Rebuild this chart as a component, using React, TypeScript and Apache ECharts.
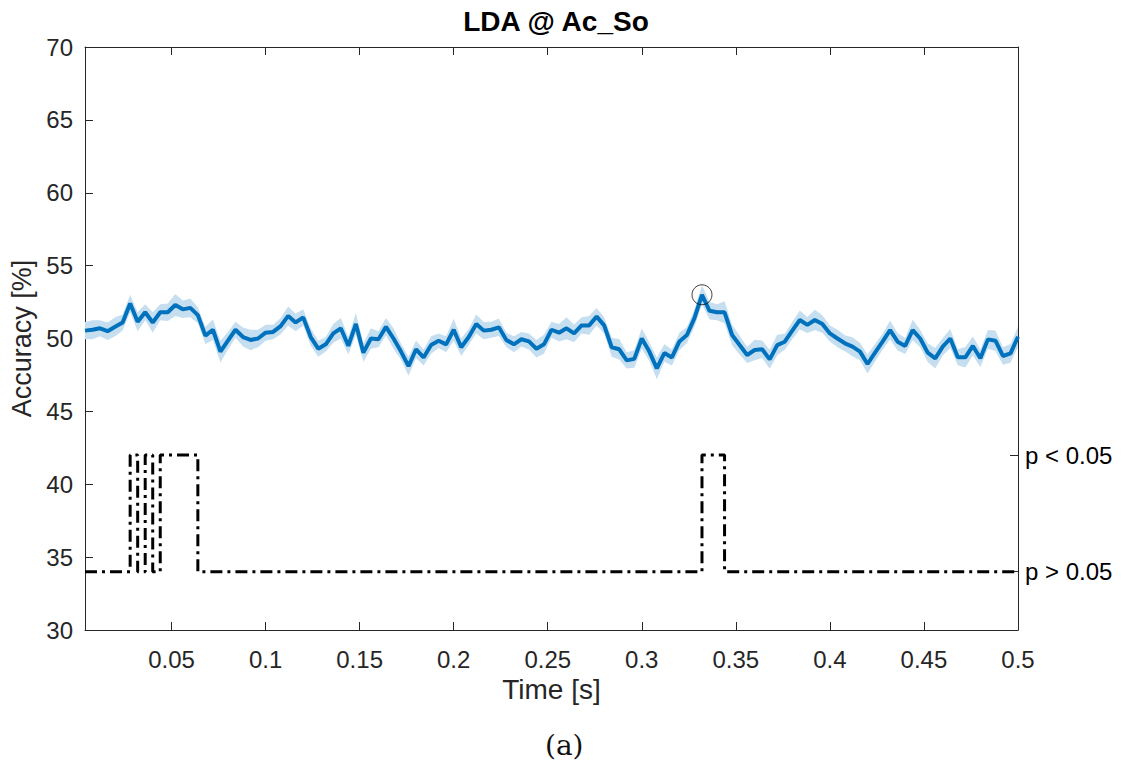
import React, { useEffect, useRef } from "react";
import * as echarts from "echarts";

// ---- Data ----
const sampleStep = 0.004; // s, sample spacing
const accuracy = [
  50.54, 50.6, 50.7, 50.5, 50.8, 51.1, 52.4, 51.15, 51.8, 51.1,
  51.8, 51.8, 52.3, 52.0, 52.1, 51.6, 50.2, 50.6, 49.1, 49.85,
  50.6, 50.1, 49.9, 50.0, 50.4, 50.45, 50.85, 51.55, 51.1, 51.45,
  50.1, 49.3, 49.6, 50.35, 50.7, 49.5, 51.0, 49.03, 50.0, 49.95,
  50.8, 50.0, 49.1, 48.1, 49.26, 48.7, 49.55, 49.85, 49.6, 50.6,
  49.4, 50.1, 51.0, 50.54, 50.6, 50.77, 49.9, 49.6, 49.95, 49.8,
  49.3, 49.6, 50.6, 50.4, 50.7, 50.35, 50.9, 50.9, 51.5, 50.9,
  49.4, 49.26, 48.5, 48.6, 50.0, 49.1, 47.95, 49.0, 48.7, 49.8,
  50.24, 51.4, 53.0, 51.9, 51.8, 51.8, 50.24, 49.55, 48.87, 49.21,
  49.26, 48.57, 49.55, 49.78, 50.54, 51.27, 50.93, 51.27, 50.99, 50.35,
  50.0, 49.67, 49.44, 49.1, 48.25, 49.03, 49.78, 50.58, 49.78, 49.49,
  50.58, 50.0, 49.03, 48.64, 49.44, 50.0, 48.71, 48.71, 49.49, 48.64,
  49.94, 49.85, 48.8, 48.98, 50.12,
];
const errorHalfWidth = [
  0.6, 0.65, 0.55, 0.6, 0.65, 0.55, 0.6, 0.65, 0.55, 0.7,
  0.55, 0.6, 0.75, 0.6, 0.65, 0.55, 0.6, 0.7, 0.75, 0.6,
  0.55, 0.65, 0.7, 0.6, 0.55, 0.5, 0.55, 0.65, 0.6, 0.55,
  0.6, 0.55, 0.5, 0.65, 0.7, 0.6, 0.75, 0.65, 0.7, 0.55,
  0.6, 0.7, 0.55, 0.65, 0.6, 0.55, 0.6, 0.5, 0.55, 0.75,
  0.6, 0.55, 0.65, 0.6, 0.55, 0.6, 0.5, 0.55, 0.5, 0.55,
  0.6, 0.65, 0.55, 0.6, 0.75, 0.6, 0.55, 0.65, 0.6, 0.55,
  0.65, 0.7, 0.55, 0.6, 0.7, 0.65, 0.75, 0.6, 0.55, 0.6,
  0.55, 0.6, 0.65, 0.6, 0.55, 0.75, 0.7, 0.65, 0.55, 0.7,
  0.6, 0.65, 0.7, 0.55, 0.6, 0.65, 0.55, 0.7, 0.6, 0.55,
  0.6, 0.55, 0.65, 0.6, 0.65, 0.6, 0.55, 0.65, 0.6, 0.55,
  0.7, 0.6, 0.65, 0.7, 0.6, 0.65, 0.55, 0.7, 0.65, 0.6,
  0.65, 0.7, 0.6, 0.65, 0.7,
];
// 1-based sample numbers where p < 0.05
const significantSamples = [7, 9, 11, 12, 13, 14, 15, 83, 84, 85];
const pLevels = [34, 42]; // [not significant, significant]
const pLabels = ["p > 0.05", "p < 0.05"];
const xTicks = [0.05, 0.1, 0.15, 0.2, 0.25, 0.3, 0.35, 0.4, 0.45, 0.5];
const yMin = 30;
const yMax = 70;
const yStep = 5;
const xMin = 0.004;
const xMax = 0.5;

const time = accuracy.map((_, i) => +(sampleStep * (i + 1)).toFixed(3));

const FONT = "'Liberation Sans', Arial, Helvetica, sans-serif";
const AX = "#262626";

export default function App() {
  const ref = useRef<HTMLDivElement>(null);
  useEffect(() => {
    if (!ref.current) return;
    const chart = echarts.init(ref.current, undefined, { renderer: "svg" });

    const lineData = time.map((t, i) => [t, accuracy[i]]);
    const bandData = time.map((t, i) => [
      t,
      accuracy[i] - errorHalfWidth[i],
      accuracy[i] + errorHalfWidth[i],
    ]);
    const sigData = time.map((t, i) => [
      t,
      significantSamples.includes(i + 1) ? pLevels[1] : pLevels[0],
    ]);
    let peakIdx = 0;
    accuracy.forEach((v, i) => {
      if (v > accuracy[peakIdx]) peakIdx = i;
    });

    const option: any = {
      animation: false,
      backgroundColor: "#ffffff",
      textStyle: { fontFamily: FONT },
      title: {
        text: "LDA @ Ac_So",
        left: 551,
        top: 2,
        textAlign: "center",
        textStyle: { fontFamily: FONT, fontWeight: "bold", fontSize: 28, color: "#000" },
      },
      grid: { left: 85, right: 108, top: 47, bottom: 147, containLabel: false },
      xAxis: [
        {
          type: "value",
          position: "bottom",
          min: xMin,
          max: xMax,
          name: "Time [s]",
          nameLocation: "middle",
          nameGap: 45,
          nameTextStyle: { fontFamily: FONT, fontSize: 28, color: AX },
          axisLine: { show: true, lineStyle: { color: AX, width: 1 } },
          axisTick: { show: true, inside: true, length: 8, customValues: xTicks, lineStyle: { color: AX } },
          axisLabel: {
            show: true,
            customValues: xTicks,
            margin: 17,
            fontFamily: FONT,
            fontSize: 24,
            color: AX,
            formatter: (v: number) => String(v),
          },
          splitLine: { show: false },
        },
        {
          type: "value",
          position: "top",
          min: xMin,
          max: xMax,
          axisLine: { show: true, onZero: false, lineStyle: { color: AX, width: 1 } },
          axisTick: { show: true, inside: true, length: 8, customValues: xTicks, lineStyle: { color: AX } },
          axisLabel: { show: false },
          splitLine: { show: false },
        },
      ],
      yAxis: [
        {
          type: "value",
          position: "left",
          min: yMin,
          max: yMax,
          interval: yStep,
          name: "Accuracy [%]",
          nameLocation: "middle",
          nameGap: 44,
          nameTextStyle: { fontFamily: FONT, fontSize: 27, color: AX },
          axisLine: { show: true, lineStyle: { color: AX, width: 1 } },
          axisTick: { show: true, inside: true, length: 8, lineStyle: { color: AX } },
          axisLabel: { margin: 12, fontFamily: FONT, fontSize: 24, color: AX },
          splitLine: { show: false },
        },
        {
          type: "value",
          position: "right",
          min: yMin,
          max: yMax,
          axisLine: { show: true, onZero: false, lineStyle: { color: AX, width: 1 } },
          axisTick: { show: true, inside: true, length: 8, customValues: pLevels, lineStyle: { color: AX } },
          axisLabel: {
            show: true,
            customValues: pLevels,
            margin: 7,
            fontFamily: FONT,
            fontSize: 24,
            color: "#000",
            formatter: (v: number) => pLabels[pLevels.indexOf(v)] ?? "",
          },
          splitLine: { show: false },
        },
      ],
      graphic: [
        {
          type: "text",
          left: 545,
          top: 731,
          style: {
            text: "(a)",
            fontFamily: "'DejaVu Serif', 'Liberation Serif', serif",
            fontSize: 28,
            fill: "#111",
          },
        },
      ],
      series: [
        {
          type: "custom",
          xAxisIndex: 0,
          yAxisIndex: 0,
          data: bandData,
          clip: true,
          silent: true,
          z: 1,
          renderItem: (params: any, api: any) => {
            if (params.dataIndex !== 0) return null;
            const upper = bandData.map((d) => api.coord([d[0], d[2]]));
            const lower = bandData.map((d) => api.coord([d[0], d[1]])).reverse();
            return {
              type: "polygon",
              shape: { points: upper.concat(lower) },
              style: { fill: "#c6dff0", stroke: "none" },
            };
          },
        },
        {
          type: "line",
          xAxisIndex: 0,
          yAxisIndex: 0,
          data: lineData,
          showSymbol: false,
          symbol: "none",
          z: 3,
          lineStyle: { color: "#0072BD", width: 4 },
        },
        {
          type: "line",
          xAxisIndex: 0,
          yAxisIndex: 0,
          data: sigData,
          step: "end",
          showSymbol: false,
          symbol: "none",
          z: 4,
          lineStyle: { color: "#000", width: 3, type: [12, 5, 3, 5] },
        },
        {
          type: "scatter",
          xAxisIndex: 0,
          yAxisIndex: 0,
          data: [[time[peakIdx], accuracy[peakIdx]]],
          symbol: "circle",
          symbolSize: 20,
          z: 5,
          itemStyle: { color: "rgba(0,0,0,0)", borderColor: "#111", borderWidth: 1 },
        },
      ],
    };
    chart.setOption(option);
    return () => chart.dispose();
  }, []);

  return (
    <div
      ref={ref}
      style={{ position: "fixed", left: 0, top: 0, width: 1126, height: 777, background: "#fff" }}
    />
  );
}
